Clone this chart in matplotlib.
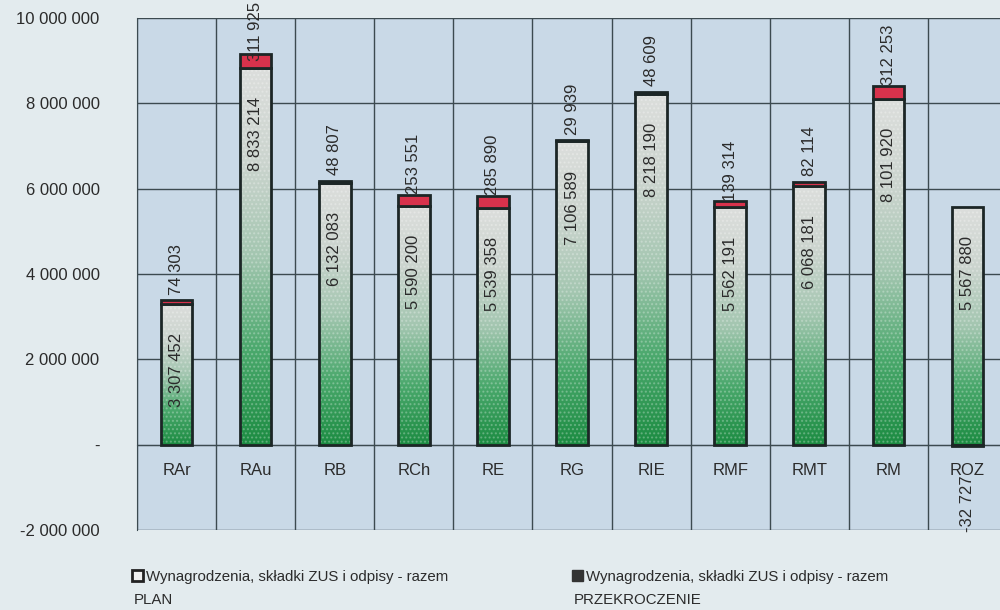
import matplotlib
matplotlib.use("Agg")
import matplotlib.pyplot as plt
import numpy as np
from matplotlib.colors import LinearSegmentedColormap
from matplotlib.patches import Patch
from matplotlib.ticker import FuncFormatter, MultipleLocator, FixedLocator

# data
categories = ["RAr", "RAu", "RB", "RCh", "RE", "RG", "RIE", "RMF", "RMT", "RM", "ROZ"]
plan = [3307452, 8833214, 6132083, 5590200, 5539358, 7106589, 8218190,
        5562191, 6068181, 8101920, 5567880]
excess = [74303, 311925, 48807, 253551, 285890, 29939, 48609,
          139314, 82114, 312253, -32727]
legend_labels = ["Wynagrodzenia, składki ZUS i odpisy - razem",
                 "Wynagrodzenia, składki ZUS i odpisy - razem"]
legend_second = ["PLAN", "PRZEKROCZENIE"]

plt.rcParams['font.family'] = ['Liberation Sans', 'DejaVu Sans']

text_col = "#2b2b2b"
edge_col = "#1c2626"
red = "#d8324c"


def fmt(v):
    if v == 0:
        return "-"
    return f"{v:,.0f}".replace(",", " ")


fig = plt.figure(figsize=(10, 6.1), dpi=100, facecolor="#e3ebee")
ax = fig.add_axes([0.137, 0.131, 0.870, 0.8395])
ax.set_facecolor("#c9d9e7")

x = np.arange(len(categories))
w = 0.4

# plan bars (outline only, gradient is drawn inside)
plan_bars = ax.bar(x, plan, w, facecolor="none", edgecolor=edge_col,
                   linewidth=2, zorder=4)

cmap = LinearSegmentedColormap.from_list(
    "bar", ["#1c8c42", "#4aa86c", "#a3c6b0", "#cbd4ce", "#dcdedc"])
grad = np.linspace(0, 1, 256).reshape(-1, 1)
for p in plan_bars:
    x0, y0 = p.get_x(), p.get_y()
    im = ax.imshow(grad, cmap=cmap, origin="lower", aspect="auto",
                   extent=[x0, x0 + p.get_width(), y0, y0 + p.get_height()],
                   zorder=3)
    im.set_clip_path(p)

# dotted texture over the bars
ax.bar(x, plan, w, facecolor="none", edgecolor="#ffffff", linewidth=0,
       hatch="....", alpha=0.25, zorder=3.5)

# excess (overrun) on top of the plan, negative ones go down from zero
bottoms = [p if e > 0 else 0 for p, e in zip(plan, excess)]
ex_cols = [red if e > 0 else "#5a2a20" for e in excess]
ax.bar(x, excess, w, bottom=bottoms, color=ex_cols, edgecolor=edge_col,
       linewidth=2, zorder=4)

# data labels
top_labels = []
for i in range(len(categories)):
    ax.annotate(fmt(plan[i]), (x[i], plan[i]), xytext=(0, -66),
                textcoords="offset pixels", rotation=90, ha="center",
                va="center", fontsize=12, color=text_col, zorder=6)
    if excess[i] > 0:
        top = plan[i] + excess[i]
        t = ax.annotate(fmt(excess[i]), (x[i], top), xytext=(0, 31),
                        textcoords="offset pixels", rotation=90, ha="center",
                        va="center", fontsize=12, color=text_col, zorder=6)
        top_labels.append(t)
    else:
        ax.annotate(fmt(excess[i]), (x[i], excess[i]), xytext=(0, -58),
                    textcoords="offset pixels", rotation=90, ha="center",
                    va="center", fontsize=12, color=text_col, zorder=6)

ax.set_xlim(-0.5, len(categories) - 0.5)
ax.set_ylim(-2000000, 10000000)
ax.yaxis.set_major_locator(MultipleLocator(2000000))
ax.yaxis.set_major_formatter(FuncFormatter(lambda v, pos: fmt(v)))
ax.xaxis.set_major_locator(FixedLocator(x))
ax.set_xticklabels(categories)
ax.xaxis.set_minor_locator(FixedLocator(np.arange(-0.5, len(categories), 1)))

ax.grid(axis="y", which="major", color="#3c4a50", linewidth=1, zorder=1)
ax.grid(axis="x", which="minor", color="#3c4a50", linewidth=1, zorder=1)
ax.set_axisbelow(True)

ax.spines["bottom"].set_position(("data", 0))
ax.spines["bottom"].set_color("#3c4a50")
ax.spines["left"].set_color("#3c4a50")
ax.spines["top"].set_visible(False)
ax.spines["right"].set_visible(False)
ax.tick_params(axis="x", which="both", length=0, pad=13, labelsize=12,
               labelcolor=text_col)
ax.tick_params(axis="y", length=0, pad=27, labelsize=12, labelcolor=text_col)

# legend
handles = [Patch(facecolor="#f0f0f0", edgecolor="#222222", linewidth=2),
           Patch(facecolor="#333333", edgecolor="#333333")]
for h, lab, sec, xa in zip(handles, legend_labels, legend_second, [0.132, 0.572]):
    fig.legend([h], [lab], loc="upper left", bbox_to_anchor=(xa, 0.066),
               frameon=False, fontsize=10.8, handlelength=0.7,
               handleheight=0.7, handletextpad=0.25, borderpad=0,
               borderaxespad=0, labelcolor=text_col)
    fig.text(xa + 0.002, 0.0164, sec, fontsize=10.8, color=text_col, va="center")

# push labels that would leave the figure back inside
fig.canvas.draw()
H = fig.bbox.height
for t in top_labels:
    bb = t.get_window_extent()
    if bb.y1 > H - 1:
        dx, dy = t.xyann
        t.xyann = (dx, dy - (bb.y1 - H) - 2)

fig.savefig("out.png", dpi=100, facecolor=fig.get_facecolor())
